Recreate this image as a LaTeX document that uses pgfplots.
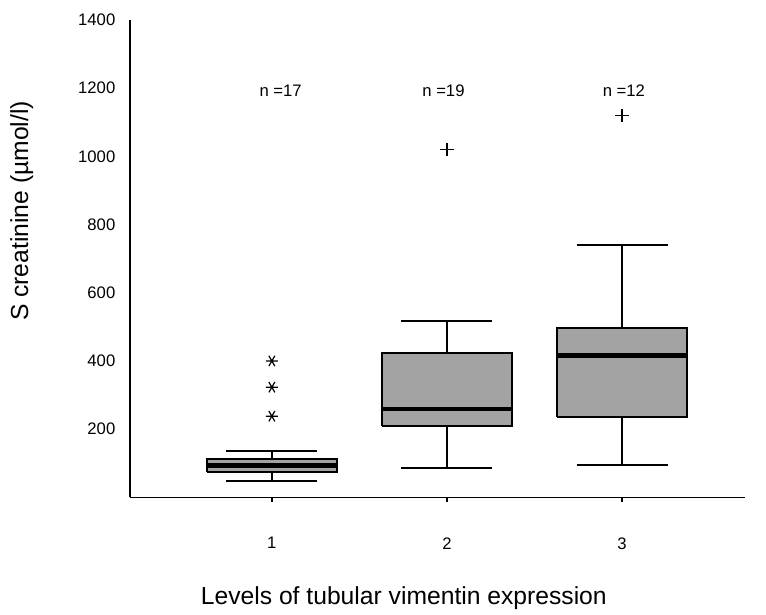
\documentclass[border=0pt]{standalone}
\usepackage{fontspec}
\setmainfont{Liberation Sans}
\usepackage{pgfplots}
\pgfplotsset{compat=1.18}

\begin{document}
\begin{tikzpicture}
\begin{axis}[
  scale only axis,
  width=461pt, height=358pt,
  xmin=0.19, xmax=3.7,
  ymin=0, ymax=1400,
  axis x line*=bottom,
  axis y line*=left,
  axis line style={line width=0.9pt},
  xtick={1,2,3},
  ytick={200,400,...,1400},
  tick align=outside,
  major tick length=3.5pt,
  xtick style={line width=2pt, black},
  ytick style={draw=none},
  xticklabel style={yshift=-23pt},
  yticklabel style={xshift=-4pt},
  tick label style={font=\fontsize{12.5}{15}\selectfont},
  /pgf/number format/assume math mode=true,
  /pgf/number format/1000 sep={},
  every axis y label/.style={at={(axis description cs:-0.176,0.60)}, rotate=90, anchor=center},
  every axis x label/.style={at={(axis description cs:0.4455,-0.212)}, anchor=center},
  label style={font=\fontsize{18.5}{22}\selectfont},
  ylabel={S creatinine (µmol/l)},
  xlabel={Levels of tubular vimentin expression},
  unbounded coords=jump,
  clip=false,
]
% whiskers (stem + cap), group 1..3
\addplot[black, line width=1.4pt, mark=none] coordinates {
  (1,112) (1,135) (nan,nan) (0.74,135) (1.26,135) (nan,nan)
  (1,74) (1,47) (nan,nan) (0.74,47) (1.26,47)};
\addplot[black, line width=1.4pt, mark=none] coordinates {
  (2,423) (2,517) (nan,nan) (1.74,517) (2.26,517) (nan,nan)
  (2,209) (2,85) (nan,nan) (1.74,85) (2.26,85)};
\addplot[black, line width=1.4pt, mark=none] coordinates {
  (3,497) (3,741) (nan,nan) (2.74,741) (3.26,741) (nan,nan)
  (3,235) (3,94) (nan,nan) (2.74,94) (3.26,94)};
% boxes (lower to upper quartile)
\addplot[draw=black, line width=1.4pt, fill=black!36, mark=none] coordinates {
  (0.63,74) (1.37,74) (1.37,112) (0.63,112) (0.63,74)};
\addplot[draw=black, line width=1.4pt, fill=black!36, mark=none] coordinates {
  (1.63,209) (2.37,209) (2.37,423) (1.63,423) (1.63,209)};
\addplot[draw=black, line width=1.4pt, fill=black!36, mark=none] coordinates {
  (2.63,235) (3.37,235) (3.37,497) (2.63,497) (2.63,235)};
% medians
\addplot[black, line width=3.6pt, mark=none] coordinates {
  (0.63,94) (1.37,94) (nan,nan) (1.63,259) (2.37,259) (nan,nan) (2.63,415) (3.37,415)};
% outliers
\addplot[only marks, mark=asterisk, mark size=4.5pt, line width=0.9pt, black,
  mark options={rotate=90}]
  coordinates {(1,238) (1,323) (1,400)};
\addplot[only marks, mark=+, mark size=5pt, line width=0.9pt, black]
  coordinates {(2,1020) (3,1120)};

% group sizes
\node[font=\fontsize{12.5}{15}\selectfont] at (axis cs:1.05,1192) {n =17};
\node[font=\fontsize{12.5}{15}\selectfont] at (axis cs:1.98,1192) {n =19};
\node[font=\fontsize{12.5}{15}\selectfont] at (axis cs:3.01,1192) {n =12};
\end{axis}
\path ([shift={(-97.5pt,-88pt)}]current axis.south west)
  rectangle ([shift={(16pt,15pt)}]current axis.north east);
\end{tikzpicture}
\end{document}
